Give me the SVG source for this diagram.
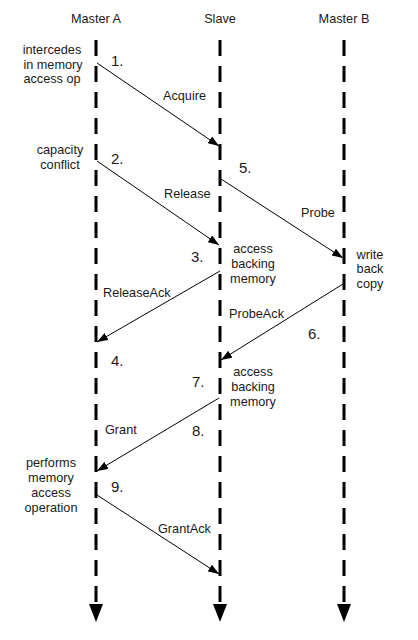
<svg xmlns="http://www.w3.org/2000/svg" width="418" height="640" viewBox="0 0 418 640">
  <style>
    .lbl { font-family: "Liberation Sans", Arial, sans-serif; font-size: 12.7px; fill: #1a1a1a; }
    .num { font-family: "Liberation Sans", Arial, sans-serif; font-size: 15px; fill: #1a1a1a; }
    .mid { text-anchor: middle; }
    .life { stroke: #000; stroke-width: 3; stroke-dasharray: 16 10; fill: none; }
    .msg { stroke: #000; stroke-width: 1; fill: none; marker-end: url(#head); }
  </style>
  <defs>
    <marker id="head" markerUnits="userSpaceOnUse" markerWidth="11" markerHeight="8" refX="11" refY="4" orient="auto">
      <path d="M0,0 L11,4 L0,8 z" fill="#000"/>
    </marker>
    <polygon id="endTip" points="-7,0 7,0 0,18" fill="#000"/>
  </defs>
  <rect width="418" height="640" fill="#fff"/>

  <!-- lifelines -->
  <g id="master-a">
    <text class="lbl mid" x="96" y="23">Master A</text>
    <line class="life" x1="96" y1="40" x2="96" y2="602"/>
    <use href="#endTip" x="96" y="604"/>
  </g>
  <g id="slave">
    <text class="lbl mid" x="220" y="23">Slave</text>
    <line class="life" x1="220" y1="40" x2="220" y2="602"/>
    <use href="#endTip" x="220" y="604"/>
  </g>
  <g id="master-b">
    <text class="lbl mid" x="344" y="23">Master B</text>
    <line class="life" x1="344" y1="40" x2="344" y2="602"/>
    <use href="#endTip" x="344" y="604"/>
  </g>

  <!-- messages -->
  <g id="connectors">
    <line class="msg" x1="97" y1="63" x2="219" y2="146"/>
    <line class="msg" x1="97" y1="161" x2="219" y2="245"/>
    <line class="msg" x1="221" y1="179" x2="343" y2="258"/>
    <line class="msg" x1="220" y1="271" x2="97" y2="342"/>
    <line class="msg" x1="343" y1="284" x2="221" y2="360"/>
    <line class="msg" x1="219" y1="398" x2="97" y2="471"/>
    <line class="msg" x1="97" y1="495" x2="219" y2="574"/>
  </g>

  <!-- message labels -->
  <g id="message-labels">
    <text class="lbl" x="163" y="100">Acquire</text>
    <text class="lbl" x="164" y="198">Release</text>
    <text class="lbl" x="301" y="217">Probe</text>
    <text class="lbl" x="103" y="297">ReleaseAck</text>
    <text class="lbl" x="229" y="318">ProbeAck</text>
    <text class="lbl" x="105" y="434">Grant</text>
    <text class="lbl" x="158" y="533">GrantAck</text>
  </g>

  <!-- step numbers -->
  <g id="steps">
    <text class="num" x="111" y="66">1.</text>
    <text class="num" x="111" y="164">2.</text>
    <text class="num" x="191" y="262">3.</text>
    <text class="num" x="111" y="366">4.</text>
    <text class="num" x="239" y="173">5.</text>
    <text class="num" x="308" y="339">6.</text>
    <text class="num" x="192" y="387">7.</text>
    <text class="num" x="192" y="436">8.</text>
    <text class="num" x="111" y="492">9.</text>
  </g>

  <!-- notes -->
  <g id="note-intercedes">
    <text class="lbl mid" x="52" y="54">intercedes</text>
    <text class="lbl mid" x="53" y="69">in memory</text>
    <text class="lbl mid" x="52" y="83">access op</text>
  </g>
  <g id="note-capacity">
    <text class="lbl mid" x="60" y="154">capacity</text>
    <text class="lbl mid" x="60" y="169">conflict</text>
  </g>
  <g id="note-access-1">
    <text class="lbl mid" x="253" y="253">access</text>
    <text class="lbl mid" x="253" y="268">backing</text>
    <text class="lbl mid" x="253" y="283">memory</text>
  </g>
  <g id="note-write-back">
    <text class="lbl mid" x="370" y="259">write</text>
    <text class="lbl mid" x="370" y="273">back</text>
    <text class="lbl mid" x="370" y="288">copy</text>
  </g>
  <g id="note-access-2">
    <text class="lbl mid" x="253" y="376">access</text>
    <text class="lbl mid" x="253" y="391">backing</text>
    <text class="lbl mid" x="253" y="406">memory</text>
  </g>
  <g id="note-performs">
    <text class="lbl mid" x="51" y="467">performs</text>
    <text class="lbl mid" x="51" y="482">memory</text>
    <text class="lbl mid" x="51" y="497">access</text>
    <text class="lbl mid" x="51" y="512">operation</text>
  </g>
</svg>
